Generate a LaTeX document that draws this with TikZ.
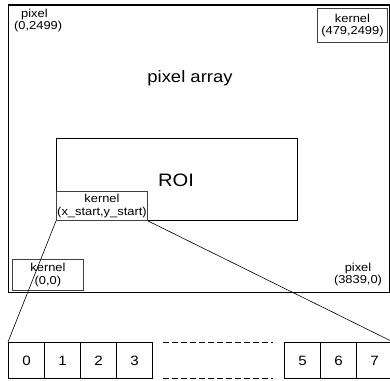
\documentclass[tikz,border=0pt]{standalone}
\usepackage{fontspec}
\setmainfont{Liberation Sans}[FakeStretch=1.12]
\begin{document}
\begin{tikzpicture}[x=1pt,y=-1pt,
  lbl/.style={font=\fontsize{11.5}{12.5}\selectfont, align=center, inner sep=0pt},
  kbox/.style={draw=black!75, line width=0.9pt, inner sep=0pt, anchor=north west},
  cell/.style={draw, line width=1.1pt, minimum width=36pt, minimum height=36pt, inner sep=0pt, anchor=north west, font=\fontsize{13.5}{14}\selectfont}]
\useasboundingbox (0,0) rectangle (390,380);
% outer pixel array
\draw[line width=1.8pt] (8.5,5) rectangle (389.5,292.5);
\node[lbl, align=left, anchor=west] (p0) at (14,20.5) {\hspace*{7pt}pixel\\(0,2499)};
\node[kbox, minimum width=70pt, minimum height=34pt] (k479) at (317,8) {};
\node[lbl] at (k479.center) {kernel\\(479,2499)};
\node[font=\fontsize{16.5}{18}\selectfont] (pa) at (190,78) {pixel array};
% ROI
\node[draw, line width=1.2pt, minimum width=241pt, minimum height=82pt, inner sep=0pt, anchor=north west] (roi) at (56,138) {};
\node[font=\fontsize{18}{20}\selectfont] (roit) at (176,180) {ROI};
\node[kbox, minimum width=91pt, minimum height=29pt] (kxs) at (56,191) {};
\node[lbl] at (kxs.center) {kernel\\(x\_start,y\_start)};
% kernel (0,0)
\node[kbox, minimum width=71pt, minimum height=31pt] (k00) at (12,259) {};
\node[lbl] at (k00.center) {kernel\\(0,0)};
\node[lbl] (p3839) at (358,274.5) {pixel\\(3839,0)};
% cells
\node[cell] (c0) at (8,342) {0};
\node[cell] (c1) at (44,342) {1};
\node[cell] (c2) at (80,342) {2};
\node[cell] (c3) at (116,342) {3};
\node[cell] (c5) at (284,342) {5};
\node[cell] (c6) at (320,342) {6};
\node[cell] (c7) at (356,342) {7};
% dashed lines
\coordinate (d1a) at (163,342);
\coordinate (d1b) at (273,342);
\coordinate (d2a) at (163,378);
\coordinate (d2b) at (273,378);
\draw[line width=0.8pt, dash pattern=on 6pt off 3pt] (d1a) -- (d1b);
\draw[line width=0.8pt, dash pattern=on 6pt off 3pt] (d2a) -- (d2b);
% connectors
\draw[line width=0.6pt] (kxs.south west) -- (c0.north west);
\draw[line width=0.6pt] (kxs.south east) -- (c7.north east);
\end{tikzpicture}
\end{document}
